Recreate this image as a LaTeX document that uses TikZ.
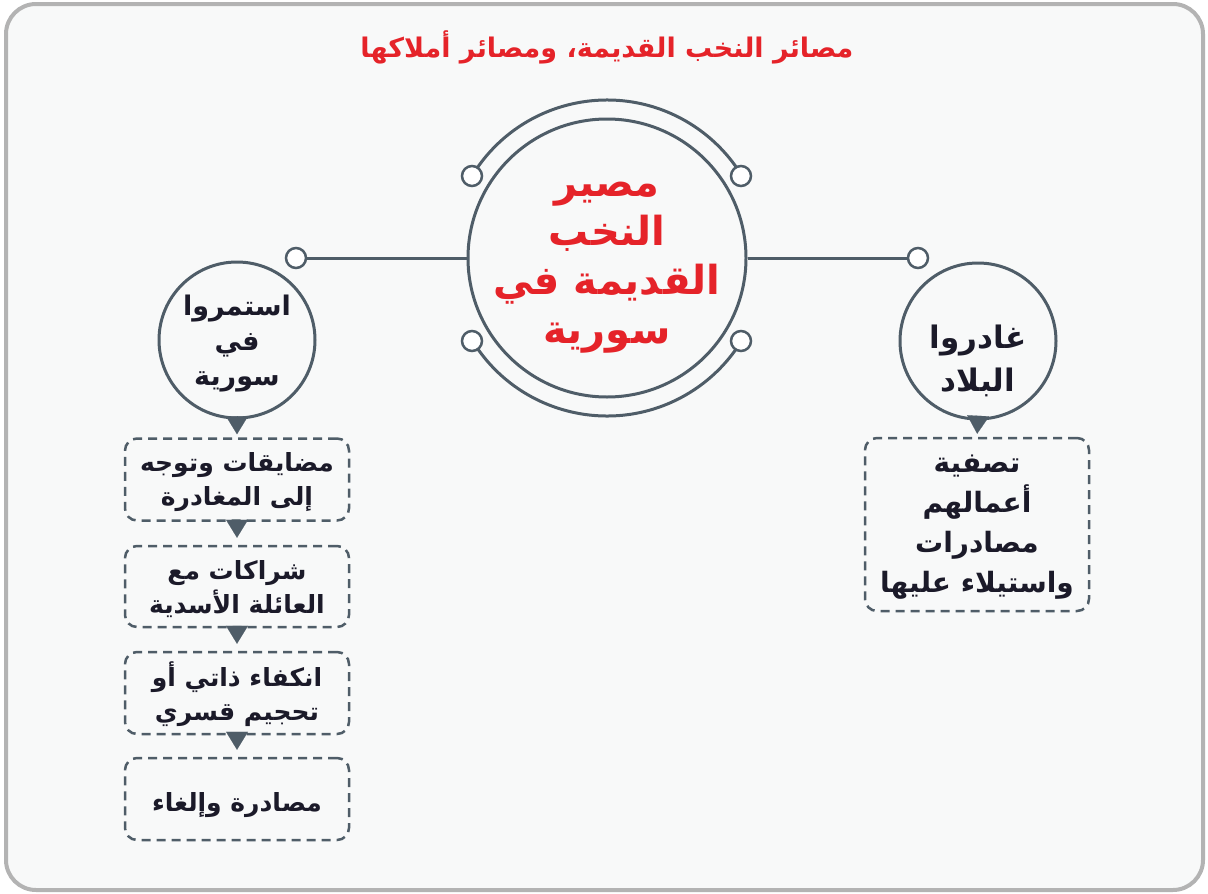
\documentclass[tikz,border=0pt]{standalone}
\usepackage{fontspec}
\usetikzlibrary{arrows.meta,calc}
\newfontfamily\arabicfont[Script=Arabic]{DejaVu Sans}
\TeXXeTstate=1
\newcommand\AR[1]{\beginR#1\endR}
\definecolor{slate}{HTML}{4F5D68}
\definecolor{framegray}{HTML}{B3B3B3}
\definecolor{bgfill}{HTML}{F8F9F9}
\definecolor{redtxt}{HTML}{E52329}
\definecolor{darktxt}{HTML}{1B1A29}
\begin{document}
\begin{tikzpicture}[x=1pt,y=1pt,
  frame/.style={draw=framegray,line width=4pt,fill=bgfill,rounded corners=30pt},
  bigcirc/.style={circle,draw=slate,line width=3pt,minimum size=278pt,inner sep=0pt},
  ctext/.style={inner sep=0pt,text=redtxt,align=center,font=\arabicfont\bfseries\fontsize{40}{49}\selectfont},
  subcirc/.style={circle,draw=slate,line width=3pt,minimum size=156pt,inner sep=0pt},
  stext/.style={inner sep=0pt,text=darktxt,align=center,font=\arabicfont\bfseries\fontsize{27}{35}\selectfont},
  knob/.style={circle,draw=slate,line width=2.5pt,fill=white,minimum size=20pt,inner sep=0pt},
  wire/.style={draw=slate,line width=3pt},
  dbox/.style={draw=slate,line width=2.5pt,dash pattern=on 9pt off 6pt,rounded corners=12pt,
    minimum width=224pt,inner sep=0pt},
  btext/.style={inner sep=0pt,text=darktxt,align=center,font=\arabicfont\bfseries\fontsize{25}{34}\selectfont},
  tri/.style={draw=slate,line width=0.1pt,-{Triangle[length=18pt,width=22pt,fill=slate]}},
  title/.style={text=redtxt,font=\arabicfont\bfseries\fontsize{27}{30}\selectfont}
]
\useasboundingbox (0,0) rectangle (1208,-894);
\path[frame] (6,-4) rectangle (1203,-890);

% title
\node[title] (ttl) at (607,-47) {\AR{مصائر النخب القديمة، ومصائر أملاكها}};

% center
\node[bigcirc] (c) at (607,-258) {};
\node[ctext] (ct) at ($(c.center)+(0,-10)$) {\AR{مصير}\\\AR{النخب}\\\AR{القديمة في}\\\AR{سورية}};
\draw[wire] (c.center) ++(148.7:158) arc[start angle=148.7,end angle=31.3,radius=158];
\draw[wire] (c.center) ++(-148.7:158) arc[start angle=-148.7,end angle=-31.3,radius=158];
\node[knob] (ul) at (472,-176) {};
\node[knob] (ur) at (741,-176) {};
\node[knob] (ll) at (472,-341) {};
\node[knob] (lr) at (741,-341) {};
\node[knob] (kl) at (296,-258) {};
\node[knob] (kr) at (918,-258) {};
\draw[wire] (c.west) -- (kl.east);
\draw[wire] (c.east) -- (kr.west);

% sub circles
\node[subcirc] (lc) at (237,-340) {};
\node[stext] (lct) at ($(lc.center)+(0,-4)$) {\AR{استمروا}\\\AR{في}\\\AR{سورية}};
\node[subcirc] (rc) at (978,-341) {};
\node[stext,font=\arabicfont\bfseries\fontsize{31}{43}\selectfont] (rct) at ($(rc.center)+(0,-20)$) {\AR{غادروا}\\\AR{البلاد}};

% left boxes
\node[dbox,minimum height=82pt] (b1) at (237,-479.5) {};
\node[btext] (b1t) at ($(b1.center)+(0,-3)$) {\AR{مضايقات وتوجه}\\\AR{إلى المغادرة}};
\node[dbox,minimum height=81pt] (b2) at (237,-586.5) {};
\node[btext] (b2t) at ($(b2.center)+(0,-3)$) {\AR{شراكات مع}\\\AR{العائلة الأسدية}};
\node[dbox,minimum height=82pt] (b3) at (237,-693) {};
\node[btext] (b3t) at ($(b3.center)+(0,-1)$) {\AR{انكفاء ذاتي أو}\\\AR{تحجيم قسري}};
\node[dbox,minimum height=82pt] (b4) at (237,-799) {};
\node[btext] (b4t) at ($(b4.center)+(0,-6)$) {\AR{مصادرة وإلغاء}};

% right box
\node[dbox,minimum height=173pt] (rb) at (977,-524.5) {};
\node[btext,font=\arabicfont\bfseries\fontsize{28}{40}\selectfont] (rbt) at ($(rb.center)+(0,-3)$)
  {\AR{تصفية}\\\AR{أعمالهم}\\\AR{مصادرات}\\\AR{واستيلاء عليها}};

% pointers
\draw[tri,shorten >=3pt] ($(lc.south)+(0,2)$) -- (b1.north);
\draw[tri,shorten >=3pt] ($(rc.south)+(0,2)$) -- (rb.north);
\draw[tri,shorten >=7pt] (b1.south) -- (b2.north);
\draw[tri,shorten >=7pt] (b2.south) -- (b3.north);
\draw[tri,shorten >=7pt] (b3.south) -- (b4.north);
\end{tikzpicture}
\end{document}
